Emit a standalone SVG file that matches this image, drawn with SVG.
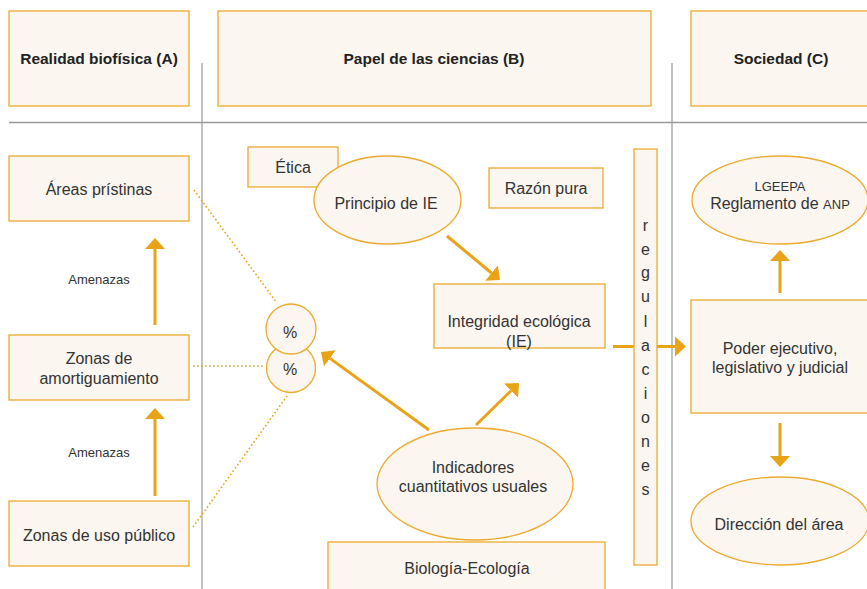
<svg xmlns="http://www.w3.org/2000/svg" width="867" height="589" viewBox="0 0 867 589">
<defs>
<style>
text{font-family:"Liberation Sans",Arial,sans-serif;fill:#333;text-anchor:middle;font-size:16px}
.h{font-weight:bold;font-size:15.5px;fill:#222}
.s{font-size:13px}
.box{fill:#FBF7F0;stroke:#EBAA2E;stroke-width:1.3}
.conn{stroke:#E8A317;stroke-width:3;fill:none}
.dot{stroke:#E8A317;stroke-width:1.6;fill:none;stroke-dasharray:1.6 2.4}
.grid{stroke:#999;fill:none}
</style>
<marker id="ah" markerUnits="userSpaceOnUse" markerWidth="11" markerHeight="20" viewBox="0 0 11 20" refX="0" refY="10" orient="auto">
<path d="M0,0 L11,10 L0,20 Z" fill="#E8A317"/>
</marker>
</defs>
<rect width="867" height="589" fill="#fff"/>
<g id="gridlines">
<line class="grid" x1="9" y1="122.5" x2="867" y2="122.5" stroke-width="1.6" stroke="#aaa"/>
<line class="grid" x1="202" y1="63" x2="202" y2="589" stroke-width="1.2"/>
<line class="grid" x1="672" y1="63" x2="672" y2="589" stroke-width="1.2"/>
</g>
<g id="header-a"><rect class="box" x="9" y="11" width="180" height="95"/><text class="h" x="99" y="64">Realidad biofísica (A)</text></g>
<g id="header-b"><rect class="box" x="218" y="11" width="433" height="95"/><text class="h" x="434" y="64">Papel de las ciencias (B)</text></g>
<g id="header-c"><rect class="box" x="691" y="11" width="180" height="95"/><text class="h" x="781" y="64">Sociedad (C)</text></g>
<g id="connectors">
<line class="conn" x1="155" y1="325" x2="155" y2="249" marker-end="url(#ah)"/>
<line class="conn" x1="155" y1="496" x2="155" y2="419" marker-end="url(#ah)"/>
<line class="conn" x1="780" y1="293" x2="780" y2="261" marker-end="url(#ah)"/>
<line class="conn" x1="780" y1="423" x2="780" y2="456" marker-end="url(#ah)"/>
<line class="conn" x1="613" y1="346.5" x2="675" y2="346.5" marker-end="url(#ah)"/>
<line class="conn" x1="447" y1="236" x2="491.5" y2="273" marker-end="url(#ah)"/>
<line class="conn" x1="476" y1="425" x2="511.1" y2="390.7" marker-end="url(#ah)"/>
<line class="conn" x1="429" y1="430" x2="329.9" y2="358.4" marker-end="url(#ah)"/>
<line class="dot" x1="194" y1="190" x2="277" y2="303"/>
<line class="dot" x1="193" y1="366" x2="265" y2="366"/>
<line class="dot" x1="193" y1="527" x2="287" y2="396"/>
</g>
<g id="areas-pristinas"><rect class="box" x="9" y="156" width="180" height="65"/><text x="99" y="195">Áreas prístinas</text></g>
<g id="zonas-amortiguamiento"><rect class="box" x="9" y="335" width="180" height="65"/><text x="99" y="364">Zonas de</text><text x="99" y="384">amortiguamiento</text></g>
<g id="zonas-uso-publico"><rect class="box" x="9" y="501" width="180" height="65"/><text x="99" y="541">Zonas de uso público</text></g>
<g id="amenazas-1"><text class="s" x="99" y="284">Amenazas</text></g>
<g id="amenazas-2"><text class="s" x="99" y="457">Amenazas</text></g>
<g id="pct-2"><circle class="box" cx="291" cy="368" r="24.5"/><text x="290" y="375">%</text></g>
<g id="pct-1"><circle class="box" cx="291" cy="329" r="25"/><text x="290" y="338">%</text></g>
<g id="etica"><rect class="box" x="248" y="147" width="90" height="40"/><text x="293" y="173">Ética</text></g>
<g id="principio-ie"><ellipse class="box" cx="387.5" cy="200" rx="73.5" ry="44"/><text x="386" y="209">Principio de IE</text></g>
<g id="razon-pura"><rect class="box" x="489" y="168" width="114" height="40"/><text x="546" y="194">Razón pura</text></g>
<g id="integridad-ecologica"><rect class="box" x="434" y="284" width="171" height="64"/><text x="519" y="327">Integridad ecológica</text><text x="519" y="347">(IE)</text></g>
<g id="indicadores"><ellipse class="box" cx="475" cy="484" rx="98" ry="56"/><text x="473" y="473">Indicadores</text><text x="473" y="492">cuantitativos usuales</text></g>
<g id="biologia-ecologia"><rect class="box" x="328" y="542" width="277" height="60"/><text x="467" y="574">Biología-Ecología</text></g>
<g id="regulaciones"><rect class="box" x="634" y="149" width="23" height="416"/>
<text x="645.5" y="231">r</text><text x="645.5" y="255">e</text><text x="645.5" y="278">g</text><text x="645.5" y="302">u</text><text x="645.5" y="327">l</text><text x="645.5" y="351">a</text><text x="645.5" y="375">c</text><text x="645.5" y="399">i</text><text x="645.5" y="423">o</text><text x="645.5" y="447">n</text><text x="645.5" y="471">e</text><text x="645.5" y="495">s</text></g>
<g id="lgeepa"><ellipse class="box" cx="780" cy="200" rx="88" ry="44"/><text class="s" x="780" y="190.5">LGEEPA</text><text x="780" y="209">Reglamento de <tspan font-size="13px">ANP</tspan></text></g>
<g id="poder"><rect class="box" x="691" y="300" width="180" height="113"/><text x="780" y="354">Poder ejecutivo,</text><text x="780" y="373">legislativo y judicial</text></g>
<g id="direccion"><ellipse class="box" cx="780" cy="521" rx="89" ry="44"/><text x="779" y="530">Dirección del área</text></g>
</svg>
